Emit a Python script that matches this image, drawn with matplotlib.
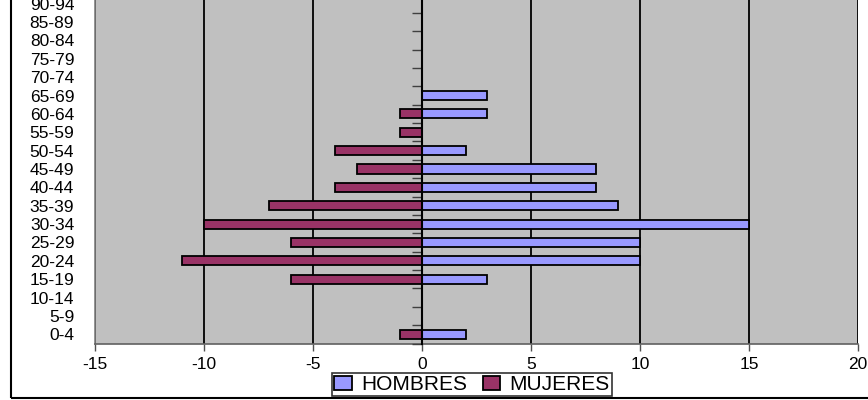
import numpy as np
import matplotlib.pyplot as plt
from matplotlib.patches import Rectangle

plt.rcParams['font.family'] = ['Liberation Sans', 'DejaVu Sans']

# age groups and values
groups = ['0-4', '5-9', '10-14', '15-19', '20-24', '25-29', '30-34', '35-39',
          '40-44', '45-49', '50-54', '55-59', '60-64', '65-69', '70-74',
          '75-79', '80-84', '85-89', '90-94']
hombres = [2, 0, 0, 3, 10, 10, 15, 9, 8, 8, 2, 0, 3, 3, 0, 0, 0, 0, 0]
mujeres = [-1, 0, 0, -6, -11, -6, -10, -7, -4, -3, -4, -1, -1, 0, 0, 0, 0, 0, 0]
xticks = [-15, -10, -5, 0, 5, 10, 15, 20]

fig = plt.figure(figsize=(8.68, 4.0), dpi=100)
ax = fig.add_axes([95 / 868, 56.5 / 400, 763 / 868, 349 / 400])
ax.set_facecolor('#C0C0C0')

y = np.arange(len(groups))
ax.barh(y, hombres, height=0.5, color='#9999FF', edgecolor='black',
        linewidth=1.3, label='HOMBRES', zorder=3)
ax.barh(y, mujeres, height=0.5, color='#993366', edgecolor='black',
        linewidth=1.3, label='MUJERES', zorder=3)

ax.set_xlim(-15, 20)
ax.set_ylim(-0.5, len(groups) - 0.5)
ax.set_xticks(xticks)
ax.set_xticklabels([str(v) for v in xticks], fontsize=12.5)
ax.set_yticks(y)
ax.set_yticklabels(groups, fontsize=12.5)
ax.tick_params(axis='y', length=0, pad=15)
ax.tick_params(axis='x', length=5, color='#505050', width=1, pad=5)
for v in xticks:
    if v != 0:
        ax.axvline(v, color='black', linewidth=1.3, zorder=1)

for s in ['top', 'right']:
    ax.spines[s].set_visible(False)
ax.spines['left'].set_color('#808080')
ax.spines['bottom'].set_color('#606060')
ax.spines['left'].set_linewidth(1.2)
ax.spines['bottom'].set_linewidth(1.2)

# zero axis with category boundary ticks
ax2 = ax.twinx()
ax2.set_ylim(ax.get_ylim())
ax2.spines['right'].set_position(('data', 0))
for s in ['top', 'left', 'bottom']:
    ax2.spines[s].set_visible(False)
ax2.spines['right'].set_color('black')
ax2.spines['right'].set_linewidth(1.5)
ax2.spines['right'].set_zorder(4)
ax2.set_yticks(np.arange(-0.5, len(groups), 1.0))
ax2.set_yticklabels([])
ax2.tick_params(axis='y', direction='in', length=7, color='#404040', width=1)

leg = ax.legend(loc='upper center', bbox_to_anchor=(0.494, -0.085), ncol=2,
                fontsize=15, frameon=True, fancybox=False, handlelength=0.85,
                handleheight=0.6, handletextpad=0.45, columnspacing=0.75,
                borderpad=0.1, borderaxespad=0, edgecolor='black')
leg.get_frame().set_linewidth(1.2)

# outer chart frame (left and bottom edges visible)
fig.patches.append(Rectangle((11 / 868, 2 / 400), 1.2, 1.2, transform=fig.transFigure,
                             fill=False, edgecolor='black', linewidth=1.5))

fig.savefig('out.png', dpi=100)
